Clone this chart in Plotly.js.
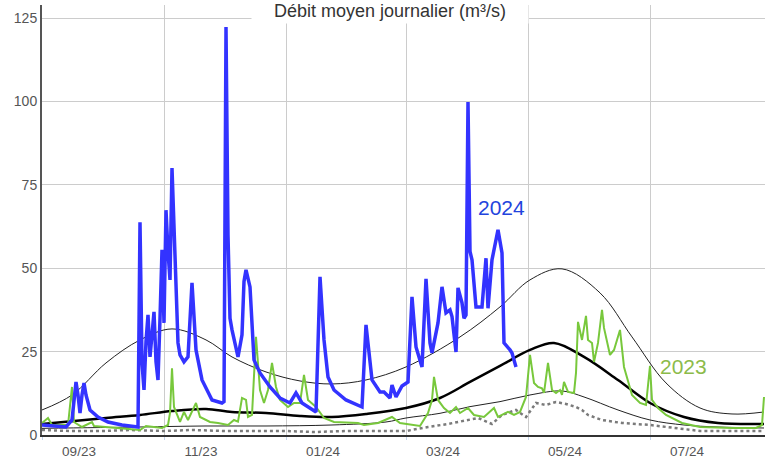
<!DOCTYPE html>
<html>
<head>
<meta charset="utf-8">
<script src="https://cdn.plot.ly/plotly-3.0.1.min.js"></script>
<style>html,body{margin:0;padding:0;background:#fff;}#chart{width:765px;height:459px;}</style>
</head>
<body>
<div id="chart"></div>
<script>
// ---- data ----
const blueDates = ["2023-09-01","2023-09-07","2023-09-13","2023-09-16","2023-09-17","2023-09-18","2023-09-19","2023-09-20","2023-09-21","2023-09-22","2023-09-23","2023-09-25","2023-09-29","2023-10-04","2023-10-11","2023-10-19","2023-10-20","2023-10-21","2023-10-22","2023-10-23","2023-10-24","2023-10-25","2023-10-26","2023-10-27","2023-10-28","2023-10-29","2023-10-30","2023-10-31","2023-11-01","2023-11-02","2023-11-03","2023-11-04","2023-11-05","2023-11-06","2023-11-07","2023-11-08","2023-11-09","2023-11-11","2023-11-13","2023-11-15","2023-11-17","2023-11-20","2023-11-25","2023-11-30","2023-12-01","2023-12-02","2023-12-03","2023-12-04","2023-12-05","2023-12-08","2023-12-10","2023-12-11","2023-12-12","2023-12-14","2023-12-16","2023-12-19","2023-12-24","2023-12-29","2024-01-03","2024-01-06","2024-01-09","2024-01-16","2024-01-18","2024-01-20","2024-01-22","2024-01-25","2024-01-31","2024-02-08","2024-02-10","2024-02-13","2024-02-17","2024-02-19","2024-02-22","2024-02-23","2024-02-25","2024-02-28","2024-03-02","2024-03-04","2024-03-06","2024-03-09","2024-03-11","2024-03-13","2024-03-14","2024-03-17","2024-03-19","2024-03-21","2024-03-23","2024-03-24","2024-03-26","2024-03-27","2024-03-29","2024-03-30","2024-03-31","2024-04-01","2024-04-02","2024-04-03","2024-04-05","2024-04-08","2024-04-10","2024-04-11","2024-04-13","2024-04-16","2024-04-18","2024-04-19","2024-04-22","2024-04-23","2024-04-25"];
const blueValues = [3.0,2.6,2.4,4.5,10,15.9,12,6.6,12,15.6,12,7.5,5.4,3.9,3.0,2.4,63.8,21.6,13.5,28,36,23.4,30,36.9,22,16.5,35,55.5,33.6,67.4,55,46.5,80,60,48.6,27.6,24,21.9,23.4,45.6,25.5,16.5,10.5,9.6,10,122.3,60,35,31.5,23.4,30,46,49.5,44.4,22.5,18.6,14.4,11.1,9.6,12.6,9.6,6.9,47.4,28.5,17.4,13.5,10.5,8.4,33,16.5,12.9,12.9,11.1,15,11.4,14.7,15.9,41.4,26.4,20.4,46.8,27.6,24.6,33.6,44.4,36.6,37.5,35.5,24.9,44.1,39.6,35,36,99.8,55,52.5,38.4,38.4,53,38,52.5,61.5,54.6,27.6,25.5,24.6,20.4];

const greenDates = ["2023-09-01","2023-09-04","2023-09-06","2023-09-14","2023-09-16","2023-09-17","2023-09-21","2023-09-26","2023-09-27","2023-10-08","2023-10-20","2023-10-23","2023-10-31","2023-11-03","2023-11-04","2023-11-05","2023-11-06","2023-11-09","2023-11-11","2023-11-13","2023-11-17","2023-11-19","2023-11-24","2023-11-28","2023-12-03","2023-12-06","2023-12-08","2023-12-10","2023-12-12","2023-12-13","2023-12-15","2023-12-17","2023-12-19","2023-12-21","2023-12-23","2023-12-25","2023-12-27","2023-12-29","2024-01-02","2024-01-05","2024-01-08","2024-01-10","2024-01-12","2024-01-16","2024-01-20","2024-01-25","2024-02-01","2024-02-06","2024-02-09","2024-02-16","2024-02-23","2024-02-27","2024-03-08","2024-03-12","2024-03-14","2024-03-15","2024-03-17","2024-03-20","2024-03-23","2024-03-26","2024-03-28","2024-04-01","2024-04-04","2024-04-09","2024-04-14","2024-04-16","2024-04-21","2024-04-24","2024-04-27","2024-04-30","2024-05-02","2024-05-04","2024-05-06","2024-05-08","2024-05-09","2024-05-11","2024-05-13","2024-05-15","2024-05-17","2024-05-18","2024-05-19","2024-05-21","2024-05-24","2024-05-25","2024-05-26","2024-05-28","2024-05-30","2024-05-31","2024-06-02","2024-06-03","2024-06-05","2024-06-07","2024-06-08","2024-06-11","2024-06-13","2024-06-16","2024-06-18","2024-06-20","2024-06-22","2024-06-26","2024-06-29","2024-07-01","2024-07-02","2024-07-05","2024-07-09","2024-07-17","2024-07-26","2024-08-11","2024-08-23","2024-08-26","2024-08-27"];
const greenValues = [3.6,5.1,3.0,3.0,14.4,3.9,2.4,3.9,2.7,2.1,1.5,2.7,2.1,3.0,6.6,20,8.4,3.9,6.9,4.5,9.6,5.4,3.9,3.6,3.0,4.5,4.0,11.1,10.5,5.4,6.0,29.4,13.5,9.6,13.5,21.6,14.4,10.5,8.4,9.6,9.6,18,10.5,8.4,5.1,3.9,3.6,3.6,3.0,3.6,5.4,3.6,2.7,6.6,10.5,17.4,10.5,8.1,6.6,8.4,6.6,8.1,6.0,5.4,8.1,5.4,6.9,6.0,6.9,11.4,24,15.6,14.4,14,12.6,21.6,13.5,12.6,13.5,12,15.9,12.9,12.6,18.6,33.9,28.5,35.7,28.5,27.6,21.9,27.6,37.5,32.1,24,25.5,31.5,20.4,16.5,12,9.6,9.0,20.7,10.5,8.1,6.0,3.6,2.4,2.1,2.1,3.0,11.4];

const upperDates = ["2023-09-01","2023-09-16","2023-10-03","2023-10-20","2023-11-05","2023-11-22","2023-12-05","2023-12-22","2024-01-08","2024-01-24","2024-02-10","2024-03-01","2024-03-28","2024-04-17","2024-05-02","2024-05-18","2024-06-06","2024-06-22","2024-07-09","2024-07-26","2024-08-11","2024-08-27"];
const upperValues = [7.5,12,21.6,28.5,31.8,28.5,23.4,18.9,16.2,15.3,16.5,20.4,29.4,38.4,46.5,49.8,42.6,29.4,15.6,8.1,6.3,6.9];

const medianDates = ["2023-09-01","2023-10-03","2023-10-20","2023-11-05","2023-11-22","2023-12-05","2023-12-22","2024-01-08","2024-01-24","2024-02-10","2024-03-01","2024-03-18","2024-04-02","2024-04-17","2024-05-02","2024-05-14","2024-05-29","2024-06-15","2024-07-01","2024-07-18","2024-08-04","2024-08-27"];
const medianValues = [3.3,5.1,6.0,7.2,7.8,6.9,6.6,5.7,5.4,6.3,8.1,11.1,15.9,20.7,25.5,27.6,23.4,16.5,9.6,5.4,3.6,3.3];

const lowerDates = ["2023-09-01","2023-10-20","2023-11-22","2023-12-22","2024-01-24","2024-02-20","2024-03-01","2024-03-18","2024-04-02","2024-04-17","2024-05-02","2024-05-18","2024-05-29","2024-06-15","2024-07-01","2024-07-18","2024-08-04","2024-08-27"];
const lowerValues = [2.0,2.4,2.7,2.7,3.0,3.9,5.1,6.5,8.5,10,12,13.2,11.4,7.5,4.5,3.0,2.4,2.1];

const minDates = ["2023-09-01","2023-09-15","2023-10-01","2023-10-15","2023-11-01","2023-11-15","2023-12-01","2023-12-15","2024-01-01","2024-01-15","2024-02-01","2024-02-15","2024-03-01","2024-03-12","2024-03-22","2024-04-06","2024-04-13","2024-04-18","2024-04-25","2024-04-30","2024-05-05","2024-05-10","2024-05-15","2024-05-20","2024-05-25","2024-05-28","2024-05-31","2024-06-07","2024-06-17","2024-07-01","2024-07-26","2024-08-27"];
const minValues = [1.5,1.2,1.2,1.5,1.2,1.5,1.2,1.2,1.2,0.9,1.2,1.2,1.2,2.4,3.3,5.1,3.3,6.0,7.5,5.4,9.6,9.0,9.9,9.3,8.4,7.5,6.0,4.5,3.6,3.0,1.2,1.2];

const tickDates = ["2023-09-01","2023-11-01","2024-01-01","2024-03-01","2024-05-01","2024-07-01"];
const tickLabels = ["09/23","11/23","01/24","03/24","05/24","07/24"];
const yTicks = [0,25,50,75,100,125];

const FONT = "Arial, 'Liberation Sans', sans-serif";

const traces = [
  {x:minDates, y:minValues, mode:'lines', line:{color:'#7a7a7a', width:2.5, dash:'dot'}, hoverinfo:'skip'},
  {x:lowerDates, y:lowerValues, mode:'lines', line:{color:'#222', width:1, shape:'spline'}, hoverinfo:'skip'},
  {x:medianDates, y:medianValues, mode:'lines', line:{color:'#000', width:2.5, shape:'spline'}, hoverinfo:'skip'},
  {x:upperDates, y:upperValues, mode:'lines', line:{color:'#222', width:1, shape:'spline'}, hoverinfo:'skip'},
  {x:greenDates, y:greenValues, mode:'lines', line:{color:'#78c83c', width:2}, name:'2023'},
  {x:blueDates, y:blueValues, mode:'lines', line:{color:'#3333ff', width:3.5}, name:'2024'}
];

const layout = {
  width:765, height:459,
  margin:{l:42, r:0, t:5, b:24},
  paper_bgcolor:'#fff', plot_bgcolor:'#fff',
  showlegend:false,
  font:{family:FONT, color:'#555', size:14},
  xaxis:{
    type:'date',
    range:['2023-09-01','2024-08-27 12:00'],
    tickmode:'array', tickvals:tickDates, ticktext:tickLabels,
    ticklabelshift:37,
    ticks:'outside', ticklen:3, tickcolor:'#c4d4ea', tickwidth:1,
    showgrid:true, gridcolor:'#cccccc', gridwidth:1,
    showline:true, linecolor:'#333', linewidth:2,
    zeroline:false,
    tickfont:{family:FONT, size:13.5, color:'#555'}
  },
  yaxis:{
    range:[0,128.9],
    tickmode:'array', tickvals:yTicks,
    ticks:'', showgrid:true, gridcolor:'#cccccc', gridwidth:1,
    showline:true, linecolor:'#555', linewidth:2,
    zeroline:false,
    tickfont:{family:FONT, size:14, color:'#555'}
  },
  annotations:[
    {xref:'paper', yref:'paper', x:(390-42)/723, y:(435-11)/430, xanchor:'center', yanchor:'middle',
     text:'Débit moyen journalier (m³/s)', showarrow:false, bgcolor:'#fff', width:274, height:23,
     font:{family:FONT, size:18, color:'#333'}},
    {x:'2024-04-17 12:00', y:68.3, text:'2024', showarrow:false, xanchor:'center', yanchor:'middle',
     font:{family:FONT, size:21, color:'#2244dd'}},
    {x:'2024-07-17 12:00', y:20.4, text:'2023', showarrow:false, xanchor:'center', yanchor:'middle',
     font:{family:FONT, size:21, color:'#8cbb4a'}}
  ]
};

Plotly.newPlot('chart', traces, layout, {staticPlot:true, displayModeBar:false});
</script>
</body>
</html>
